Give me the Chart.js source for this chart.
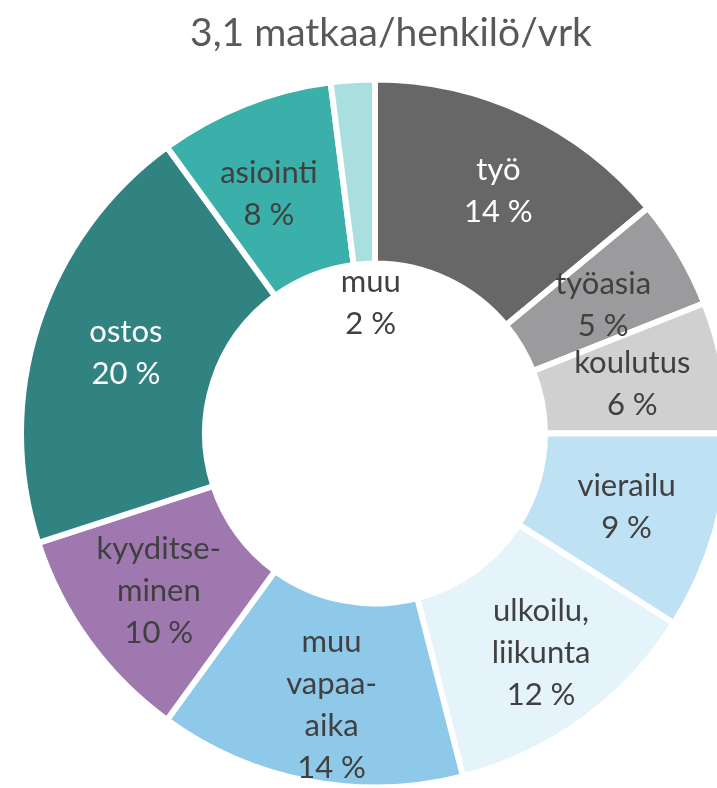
<!DOCTYPE html>
<html>
<head>
<meta charset="utf-8">
<script src="https://cdn.jsdelivr.net/npm/chart.js@4/dist/chart.umd.min.js"></script>
<style>
  html, body { margin: 0; padding: 0; background: #ffffff; overflow: hidden; }
  #wrap { position: relative; width: 750px; height: 788px; }
  #title { position: absolute; left: 0; top: 8px; width: 782px; text-align: center;
           font-family: Lato, sans-serif; font-size: 39px; line-height: 47px; color: #595959; }
  canvas { position: absolute; left: 3px; top: 0; }
</style>
</head>
<body>
<div id="wrap"><canvas id="c" width="744" height="788"></canvas><div id="title"></div></div>
<script>
// ---- Data ----
const titleText = "3,1 matkaa/henkilö/vrk";
const categories = ["työ", "työasia", "koulutus", "vierailu", "ulkoilu, liikunta", "muu vapaa-aika", "kyyditseminen", "ostos", "asiointi", "muu"];
const labelLines = [["työ"], ["työasia"], ["koulutus"], ["vierailu"], ["ulkoilu,", "liikunta"], ["muu", "vapaa-", "aika"], ["kyyditse-", "minen"], ["ostos"], ["asiointi"], ["muu"]];
const shares = [14, 5, 6, 9, 12, 14, 10, 20, 8, 2];
const colors = ["#676767", "#9b9b9d", "#d0d0d0", "#bfe1f4", "#e5f3fb", "#8fc9ea", "#a078b0", "#318382", "#3bb0aa", "#a9dfde"];
const textColors = ["#ffffff", "#404040", "#404040", "#404040", "#404040", "#404040", "#404040", "#ffffff", "#404040", "#404040"];

document.getElementById('title').textContent = titleText;

const sliceLabels = {
  id: 'sliceLabels',
  afterDatasetsDraw(chart, args, opts) {
    const ctx = chart.ctx;
    const meta = chart.getDatasetMeta(0);
    ctx.save();
    ctx.font = opts.size + 'px ' + opts.family;
    ctx.textAlign = 'center';
    ctx.textBaseline = 'middle';
    meta.data.forEach((arc, i) => {
      const p = arc.getProps(['x', 'y', 'startAngle', 'endAngle', 'innerRadius', 'outerRadius'], true);
      const mid = (p.startAngle + p.endAngle) / 2 + opts.angleShift[i];
      const r = (opts.radiusFactor[i]) * (p.innerRadius + p.outerRadius) / 2;
      const cx = p.x + Math.cos(mid) * r;
      const cy = p.y + Math.sin(mid) * r;
      const lines = labelLines[i].concat([shares[i] + ' %']);
      const lh = opts.lineHeight;
      const y0 = cy - (lines.length - 1) * lh / 2;
      ctx.fillStyle = textColors[i];
      lines.forEach((t, k) => ctx.fillText(t, cx, y0 + k * lh));
    });
    ctx.restore();
  }
};

new Chart(document.getElementById('c'), {
  type: 'doughnut',
  data: {
    labels: categories,
    datasets: [{
      data: shares,
      backgroundColor: colors,
      borderColor: '#ffffff',
      borderWidth: 6,
      hoverOffset: 0
    }]
  },
  options: {
    responsive: false,
    animation: false,
    rotation: 0,
    cutout: '48%',
    radius: 354,
    layout: { padding: { top: 82, bottom: 3, left: 0, right: 0 } },
    plugins: {
      legend: { display: false },
      tooltip: { enabled: false },
      title: { display: false },
      sliceLabels: {
        family: 'Lato',
        size: 31,
        lineHeight: 42,
        radiusFactor: [1.04, 1.0, 1.0, 1.0, 1.05, 1.05, 1.02, 1.0, 1.0, 0.5],
        angleShift: [0.03, 0.02, 0, 0, -0.02, -0.03, 0, 0, -0.04, 0.03]
      }
    }
  },
  plugins: [sliceLabels]
});
</script>
</body>
</html>
